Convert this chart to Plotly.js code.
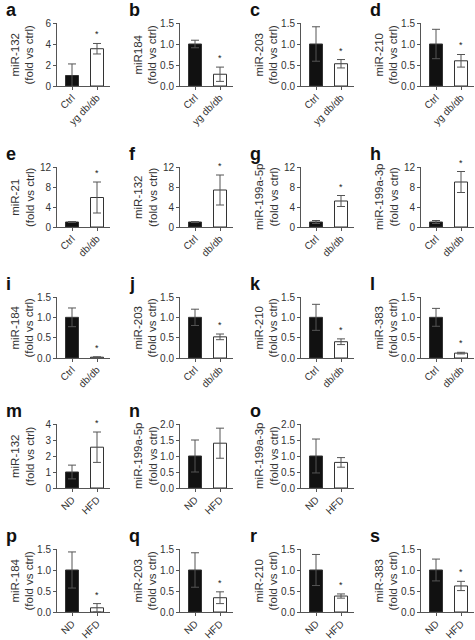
<!DOCTYPE html>
<html>
<head>
<meta charset="utf-8">
<script src="https://cdn.plot.ly/plotly-3.0.1.min.js"></script>
<style>html,body{margin:0;padding:0;background:#fff}#chart{width:475px;height:640px}</style>
</head>
<body>
<div id="chart"></div>
<script>
// ---- data ----
const panelLetters = ['a','b','c','d','e','f','g','h','i','j','k','l','m','n','o','p','q','r','s'];
const yTitles = ['miR-132','miR184','miR-203','miR-210',
                 'miR-21','miR-132','miR-199a-5p','miR-199a-3p',
                 'miR-184','miR-203','miR-210','miR-383',
                 'miR-132','miR-199a-5p','miR-199a-3p',
                 'miR-184','miR-203','miR-210','miR-383'];
const catsYg = ['Ctrl','yg db/db'];
const catsDb = ['Ctrl','db/db'];
const catsHfd = ['ND','HFD'];
const panelCats = [catsYg,catsYg,catsYg,catsYg,
                   catsDb,catsDb,catsDb,catsDb,
                   catsDb,catsDb,catsDb,catsDb,
                   catsHfd,catsHfd,catsHfd,
                   catsHfd,catsHfd,catsHfd,catsHfd];
const ctrlVals  = [1.0,1.0,1.0,1.0, 1.0,1.0,1.0,1.0, 1.0,1.0,1.0,1.0, 1.0,1.0,1.0, 1.0,1.0,1.0,1.0];
const ctrlErr   = [1.1,0.09,0.41,0.35, 0.1,0.1,0.3,0.3, 0.23,0.2,0.32,0.22, 0.43,0.5,0.53, 0.43,0.41,0.37,0.26];
const treatVals = [3.55,0.28,0.53,0.60, 5.9,7.4,5.2,9.0, 0.02,0.52,0.40,0.12, 2.55,1.40,0.80, 0.10,0.34,0.38,0.62];
const treatErr  = [0.5,0.17,0.1,0.15, 3.1,3.0,1.1,2.1, 0.01,0.07,0.07,0.02, 0.95,0.47,0.15, 0.1,0.14,0.05,0.11];
const yMax      = [6,1.5,1.5,1.5, 12,12,12,12, 1.5,1.5,1.5,1.5, 4,2,2, 1.5,1.5,1.5,1.5];
const yDtick    = [2,0.5,0.5,0.5, 4,4,4,4, 0.5,0.5,0.5,0.5, 1,0.5,0.5, 0.5,0.5,0.5,0.5];
const yFormat   = ['d','.1f','.1f','.1f', 'd','d','d','d', '.1f','.1f','.1f','.1f', 'd','.1f','.1f', '.1f','.1f','.1f','.1f'];
const significant = [1,1,1,1, 1,1,1,1, 1,1,1,1, 1,0,0, 1,1,1,1];

// ---- layout geometry (pixels) ----
const W = 475, H = 640;
const rowOf = [0,0,0,0, 1,1,1,1, 2,2,2,2, 3,3,3, 4,4,4,4];
const colOf = [0,1,2,3, 0,1,2,3, 0,1,2,3, 0,1,2, 0,1,2,3];
const colX = [57, 180, 301, 421];
const plotW = 53;
const rowTop = [23, 167, 297, 424, 549];
const rowBot = [86, 227, 358, 488, 612];

const font = 'Liberation Sans, Arial, Helvetica, sans-serif';
const axisCol = '#555';
const traces = [];
const layout = {
  width: W, height: H,
  margin: {l:0, r:0, t:0, b:0},
  paper_bgcolor: '#fff', plot_bgcolor: '#fff',
  showlegend: false,
  font: {family: font, size: 10, color: '#333'},
  annotations: []
};

panelLetters.forEach((p, i) => {
  const n = i + 1;
  const xa = 'x' + (n === 1 ? '' : n);
  const ya = 'y' + (n === 1 ? '' : n);
  const r = rowOf[i], c = colOf[i];
  const x0 = colX[c], x1 = colX[c] + plotW;
  const y0 = rowTop[r], y1 = rowBot[r];
  const cats = panelCats[i];

  traces.push({
    type: 'bar', x: cats, y: [ctrlVals[i], treatVals[i]],
    xaxis: xa, yaxis: ya, width: 0.52,
    marker: {color: ['#111', '#fff'], line: {color: '#333', width: 1}},
    error_y: {type: 'data', array: [ctrlErr[i], treatErr[i]], visible: true,
              color: '#555', thickness: 1, width: 4},
    hoverinfo: 'skip'
  });

  layout['xaxis' + (n === 1 ? '' : n)] = {
    domain: [x0 / W, x1 / W], anchor: ya,
    type: 'category', range: [-0.6, 1.52],
    showline: true, linecolor: axisCol, linewidth: 1,
    ticks: 'outside', ticklen: 3, tickcolor: axisCol,
    tickangle: -45, ticklabelstandoff: -2,
    tickfont: {size: 10, color: '#333', family: font},
    showgrid: false, zeroline: false, fixedrange: true
  };
  layout['yaxis' + (n === 1 ? '' : n)] = {
    domain: [1 - y1 / H, 1 - y0 / H], anchor: xa,
    range: [0, yMax[i]], dtick: yDtick[i], tick0: 0, tickformat: yFormat[i],
    showline: true, linecolor: axisCol, linewidth: 1,
    ticks: 'outside', ticklen: 3, tickcolor: axisCol,
    tickfont: {size: 10, color: '#333', family: font},
    showgrid: false, zeroline: false, fixedrange: true
  };

  // y title (two lines)
  layout.annotations.push({
    xref: 'paper', yref: 'paper',
    x: (x0 - 35) / W, y: 1 - ((y0 + y1) / 2) / H,
    xanchor: 'center', yanchor: 'middle',
    text: yTitles[i] + '<br>(fold vs ctrl)', textangle: -90,
    showarrow: false, font: {size: 11.5, color: '#333', family: font}
  });
  // panel letter
  layout.annotations.push({
    xref: 'paper', yref: 'paper',
    x: (x0 - 53) / W, y: 1 - (y0 - 13) / H,
    xanchor: 'left', yanchor: 'middle',
    text: '<b>' + p + '</b>', showarrow: false,
    font: {size: 18, color: '#111', family: font}
  });
  // significance asterisk
  if (significant[i]) {
    layout.annotations.push({
      xref: xa, yref: ya, x: cats[1], y: treatVals[i] + treatErr[i],
      xanchor: 'center', yanchor: 'bottom', yshift: 2,
      text: '*', showarrow: false,
      font: {size: 9, color: '#222', family: font}
    });
  }
});

Plotly.newPlot('chart', traces, layout, {displayModeBar: false, staticPlot: true});
</script>
</body>
</html>
